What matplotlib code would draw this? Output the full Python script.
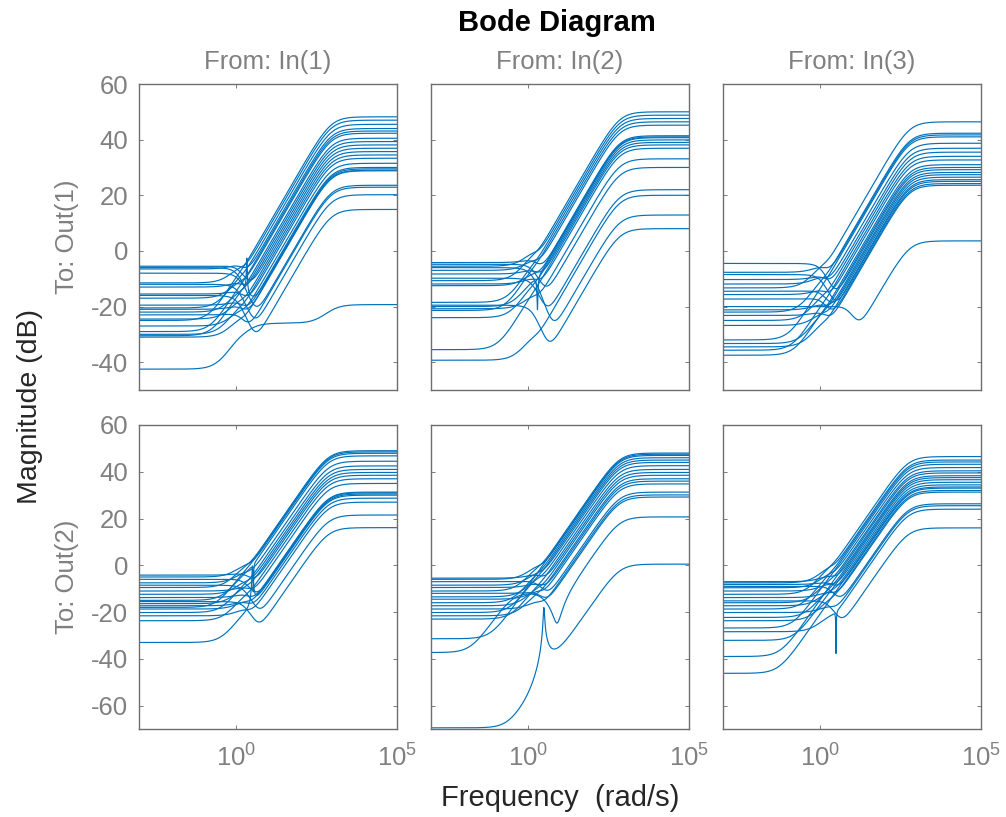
import numpy as np
import matplotlib.pyplot as plt
from matplotlib.ticker import FixedLocator, NullLocator

plt.rcParams['font.family'] = ['Liberation Sans', 'DejaVu Sans']
plt.rcParams['mathtext.default'] = 'regular'
plt.rcParams['axes.unicode_minus'] = False

# Low-frequency level (dB) and high-frequency level (dB) of each response,
# one pair of lists per output/input channel
lo_11 = [-5.5, -6, -6.5, -8, -11.5, -12, -13, -15.5, -16, -17, -19.5, -20.5,
         -21, -22, -23, -24.5, -25, -27, -29, -30, -30.5, -31, -42.5]
hi_11 = [36.9, 23.6, 44, 29.5, 47, 20.2, 38.1, 33.3, 14.9, 42.3, 30, 45.5,
         28.8, 39.3, 22.9, 35.7, 48.2, 31.5, 43.1, 34.5, 40.5, 29, -19.3]

lo_12 = [-4.2, -4.8, -5.5, -6, -7, -8.3, -9.8, -10.7, -11.9, -12.5, -18.5,
         -19.5, -20, -20.8, -21.4, -24, -35.5, -39.3]
hi_12 = [41.4, 30, 48.8, 12.9, 45.2, 39, 22, 50, 36.9, 41, 47.6,
         8, 40.7, 33.1, 46.4, 39.9, 38.1, 20]

lo_13 = [-4.5, -7.7, -8.5, -10.3, -11.9, -13.3, -14.5, -15.7, -17.3, -20,
         -21.2, -22, -23.2, -25, -26.8, -32, -33.3, -34.5, -35.7, -37.5]
hi_13 = [29.2, 41.7, 25, 36.9, 38.7, 46.4, 26.5, 32.7, 24.2, 3.6,
         28.2, 42.3, 23.6, 35.5, 27.4, 41, 30, 25.6, 34, 31]

lo_21 = [-4.2, -5, -6, -7.5, -8.5, -9.5, -11, -12.4, -13.8, -15, -15.5,
         -16.4, -17.3, -18, -18.7, -20.2, -21.6, -23.7, -33]
hi_21 = [38.5, 47.9, 30.5, 44.5, 21.5, 49, 35, 41, 31.3, 46.8, 16.1,
         39.7, 28.7, 48.5, 31, 42.5, 27, 37, 30]

lo_22 = [-5.5, -6, -7, -8.5, -9.5, -11, -12, -13.5, -14.5, -16, -17.3,
         -18.7, -20.2, -21.6, -23, -31.4, -37.3, -69.5]
hi_22 = [39.7, 47, 31.3, 44, 36, 48, 29.2, 42.6, 34.8, 46, 38.5,
         30.1, 45, 37, 41, 47.5, 20.7, 0.5]

lo_23 = [-7, -7.5, -8.2, -9, -9.6, -11, -12.4, -13.8, -15.2, -16, -17.3,
         -18.7, -20.2, -22.3, -23.7, -26.8, -28.4, -32.1, -39, -46.2]
hi_23 = [38.3, 45, 33, 26.3, 41.8, 35.5, 46.5, 31.3, 16, 40.4, 34.4,
         44.2, 25.5, 37.5, 32, 43.2, 24, 36.6, 39.5, 33.5]

lo_db = [[lo_11, lo_12, lo_13], [lo_21, lo_22, lo_23]]
hi_db = [[hi_11, hi_12, hi_13], [hi_21, hi_22, hi_23]]

# corner frequencies (rad/s) per channel: low-pass roll-off and upper pole
w_lp = [[1.3, 1.5, 1.2], [2.0, 2.0, 2.0]]
w_hi = [[900, 700, 600], [750, 700, 550]]

# responses with their own low-pass corner: (row, col, index, w)
lp_own = [(0, 2, 9, 7.7)]
# intermediate plateaus: (row, col, index, level dB, w)
steps = [(0, 0, 22, -26, 2.5)]
# band-pass / resonant terms: (row, col, index, residue, w, zeta)
bumps = [(1, 1, 16, 0.89, 1.12, 1.78),
         (1, 1, 17, -0.01, 3.16, 0.04)]
# sharp notches / peaks: (row, col, index, w, zeta_zero, zeta_pole)
notches = [(1, 0, 9, 3.5, 0.01, 0.04),
           (1, 0, 18, 3.3, 0.2, 0.03),
           (1, 2, 16, 3.2, 0.005, 0.04),
           (0, 0, 3, 2.2, 0.08, 0.02),
           (0, 1, 12, 2.0, 0.02, 0.08)]

in_names = ['From: In(1)', 'From: In(2)', 'From: In(3)']
out_names = ['To: Out(1)', 'To: Out(2)']
ylims = [(-50, 60), (-70, 60)]
yticks = [[-40, -20, 0, 20, 40, 60], [-60, -40, -20, 0, 20, 40, 60]]

line_color = '#0072BD'
gray = '#808080'
W, H = 1006, 817

w = np.logspace(-3, 5, 4000)
s = 1j * w


def find(table, r, c, i):
    for row in table:
        if row[:3] == (r, c, i):
            return row[3:]
    return None


fig = plt.figure(figsize=(W / 100, H / 100), dpi=100)
fig.patch.set_facecolor('white')

col_x = [139, 431, 723]
row_y = [(84, 390), (425, 729)]
ax_w = 258

for r in range(2):
    for c in range(3):
        y0, y1 = row_y[r]
        ax = fig.add_axes([col_x[c] / W, 1 - y1 / H, ax_w / W, (y1 - y0) / H])
        wp = w_hi[r][c]
        for i, (lo, hi) in enumerate(zip(lo_db[r][c], hi_db[r][c])):
            own = find(lp_own, r, c, i)
            wl = own[0] if own else w_lp[r][c]
            k_hi = 10 ** (hi / 20)
            h = -10 ** (lo / 20) * wl ** 2 / (s ** 2 + 1.6 * wl * s + wl ** 2)
            st = find(steps, r, c, i)
            if st:
                m = 10 ** (st[0] / 20)
                h = h + m * s / (s + st[1])
                k_hi = k_hi - m
            h = h + k_hi * s / (s + wp)
            bp = find(bumps, r, c, i)
            if bp:
                res, w1, z1 = bp
                h = h + res * w1 * s / (s ** 2 + 2 * z1 * w1 * s + w1 ** 2)
            nt = find(notches, r, c, i)
            if nt:
                wn, zz, zp = nt
                h = h * (s ** 2 + 2 * zz * wn * s + wn ** 2) / (s ** 2 + 2 * zp * wn * s + wn ** 2)
            ax.plot(w, 20 * np.log10(np.abs(h)), color=line_color, lw=0.85)

        ax.set_xscale('log')
        ax.set_xlim(1e-3, 1e5)
        ax.set_ylim(*ylims[r])
        ax.xaxis.set_major_locator(FixedLocator([1e0, 1e5]))
        ax.xaxis.set_minor_locator(NullLocator())
        ax.yaxis.set_major_locator(FixedLocator(yticks[r]))
        ax.tick_params(direction='in', length=3, width=0.6, color='#666666',
                       top=True, right=True, labelsize=18.5, labelcolor=gray)
        ax.tick_params(axis='x', pad=11)
        ax.tick_params(axis='y', pad=8)
        if r == 1:
            ax.set_xticklabels(['$10^{0}$', '$10^{5}$'])
        else:
            ax.set_xticklabels([])
        if c != 0:
            ax.set_yticklabels([])
        for sp in ax.spines.values():
            sp.set_color('#6e6e6e')
            sp.set_linewidth(1.0)

for c in range(3):
    fig.text((col_x[c] + ax_w / 2) / W, 1 - 62 / H, in_names[c], ha='center',
             va='center', fontsize=18.5, color=gray)
for r in range(2):
    yc = (row_y[r][0] + row_y[r][1]) / 2
    fig.text(67 / W, 1 - yc / H, out_names[r], ha='center', va='center',
             rotation=90, fontsize=18.5, color=gray)

fig.text(557 / W, 1 - 23 / H, 'Bode Diagram', ha='center', va='center',
         fontsize=21, fontweight='bold', color='black')
fig.text(30 / W, 1 - 407 / H, 'Magnitude (dB)', ha='center', va='center',
         rotation=90, fontsize=20.5, color='#262626')
fig.text(560 / W, 1 - 798 / H, 'Frequency  (rad/s)', ha='center', va='center',
         fontsize=21, color='#262626')

fig.savefig('out.png', dpi=100, facecolor='white')
